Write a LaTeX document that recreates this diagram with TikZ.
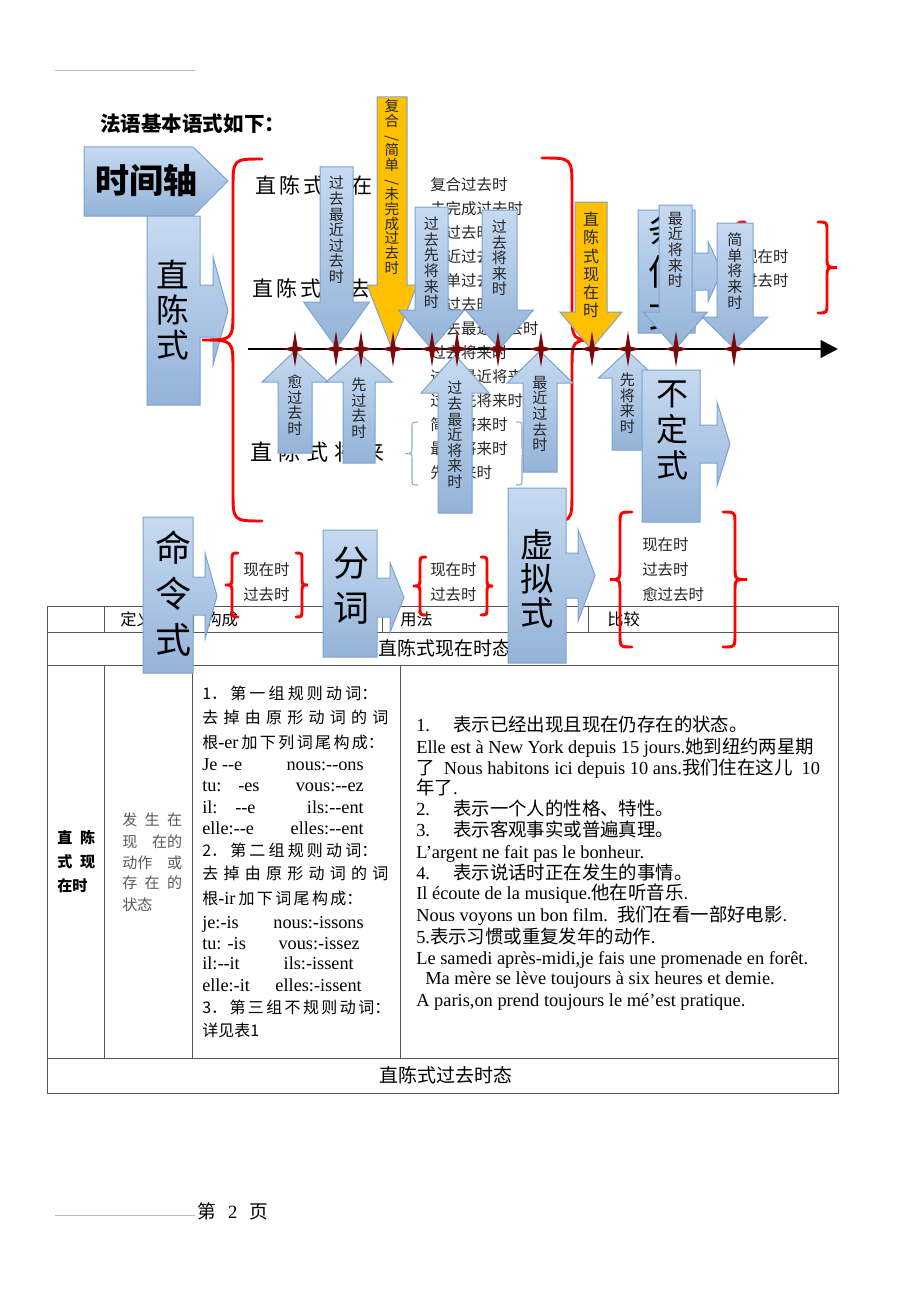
\documentclass[tikz,border=0pt]{standalone}
\usepackage{fontspec}
\setmainfont{Liberation Serif}
\newfontfamily\zh{Noto Sans CJK SC}
\usetikzlibrary{arrows.meta}

\definecolor{bluetop}{HTML}{C6DAF1}
\definecolor{bluebot}{HTML}{94B3D8}
\definecolor{boxline}{HTML}{7DA2CF}
\definecolor{gold}{HTML}{FFC000}
\definecolor{starred}{HTML}{7A0A0A}
\definecolor{listblue}{HTML}{8DAACC}
\definecolor{tabgray}{HTML}{555555}

\newdimen\pxu \pxu=0.75pt
\newcommand\spr[2]{\makebox[#1\pxu][s]{#2}}

% arrow with a stem: style, x1, x2, stem end, head base, head half width, tip
\newcommand\stemarrow[7]{\draw[#1] (#2,#4) -- (#3,#4) -- (#3,#5) -- ({(#2+#3)/2+#6},#5) -- ({(#2+#3)/2},#7) -- ({(#2+#3)/2-#6},#5) -- (#2,#5) -- cycle;}
% box with arrow to the right: x1, x2, top, bottom, neck top, neck bottom, head x, head half, tip x
\newcommand\blockarrow[9]{\draw[bluebox] (#1,#3) -- (#2,#3) -- (#2,#5) -- (#7,#5) -- (#7,{(#5+#6)/2-#8}) -- (#9,{(#5+#6)/2}) -- (#7,{(#5+#6)/2+#8}) -- (#7,#6) -- (#2,#6) -- (#2,#4) -- (#1,#4) -- cycle;}
% curly bracket: style, spine x, tip x, top, bottom, end dx, bend
\newcommand\curly[7]{\draw[#1] ({#2+(#6)},#4) .. controls (#2,#4) .. (#2,{#4+#7})
  -- (#2,{(#4+#5)/2-#7}) .. controls (#2,{(#4+#5)/2}) .. (#3,{(#4+#5)/2})
  .. controls (#2,{(#4+#5)/2}) .. (#2,{(#4+#5)/2+#7})
  -- (#2,{#5-#7}) .. controls (#2,#5) .. ({#2+(#6)},#5);}

\begin{document}
\begin{tikzpicture}[x=0.75pt,y=-0.75pt,
  bluebox/.style={draw=boxline, line width=0.75pt, top color=bluetop, bottom color=bluebot},
  yellowbox/.style={draw=boxline, line width=0.75pt, fill=gold},
  redbrace/.style={draw=red, line width=2.2pt, line cap=round},
  listbrace/.style={draw=listblue, line width=0.8pt},
  tabline/.style={draw=tabgray, line width=0.6pt},
  vlab/.style={font=\zh\fontsize{11.3}{11.7}\selectfont, align=center, inner sep=0pt, text=black!85},
  biglab/.style={align=center, inner sep=0pt},
  listtxt/.style={font=\zh\fontsize{11.6}{13}\selectfont, anchor=base west, inner sep=0pt, text=black!85},
  hdr/.style={font=\zh\fontsize{12.2}{14}\selectfont, anchor=base west, inner sep=0pt},
  cellL/.style={font=\fontsize{13.7}{15}\selectfont, anchor=base west, inner sep=0pt},
  cellR/.style={font=\fontsize{13.7}{15}\selectfont, anchor=base east, inner sep=0pt},
  cellzh/.style={font=\zh\fontsize{12}{14}\selectfont, anchor=base west, inner sep=0pt},
  usetxt/.style={font=\fontsize{13.8}{15}\selectfont, anchor=base west, inner sep=0pt}]

\path[use as bounding box, fill=white] (0,0) rectangle (920,1302);

% page rules
\draw[gray!55, line width=0.5pt] (55,70) -- (195,70);
\draw[gray!55, line width=0.5pt] (55,1215) -- (195,1215);
\node[anchor=base west, inner sep=0pt, font=\fontsize{14}{16}\selectfont] (pageNo) at (197,1218) {\spr{71}{{\zh 第} 2 {\zh 页}}};

% title
\node[anchor=base west, inner sep=0pt, font=\zh\bfseries\fontsize{15.4}{18}\selectfont] (title) at (100,132) {法语基本语式如下：};

% table
\draw[tabline] (47,606) rectangle (838,1093);
\draw[tabline] (47,632) -- (838,632);
\draw[tabline] (47,665) -- (838,665);
\draw[tabline] (47,1058) -- (838,1058);
\foreach \cx in {104,193,382,588} \draw[tabline] (\cx,606) -- (\cx,632);
\foreach \cx in {104,192,400} \draw[tabline] (\cx,665) -- (\cx,1058);

\node[hdr] (hdDef) at (120,625) {定义};
\node[hdr] (hdCon) at (205,625) {构成};
\node[hdr] (hdUse) at (400,625) {用法};
\node[hdr] (hdCmp) at (607,625) {比较};
\node[font=\zh\fontsize{14.2}{16}\selectfont, anchor=base, inner sep=0pt] (rowPres) at (445,655) {直陈式现在时态};
\node[font=\zh\fontsize{14.2}{16}\selectfont, anchor=base, inner sep=0pt] (rowPast) at (446,1082) {直陈式过去时态};

% first cells
\node[anchor=base west, inner sep=0pt, font=\zh\bfseries\fontsize{11.3}{13}\selectfont] (nameA) at (57,843.5) {\spr{38}{直 陈}};
\node[anchor=base west, inner sep=0pt, font=\zh\bfseries\fontsize{11.3}{13}\selectfont] (nameB) at (57,867.5) {\spr{38}{式 现}};
\node[anchor=base west, inner sep=0pt, font=\zh\bfseries\fontsize{11.3}{13}\selectfont] (nameC) at (57,891.5) {在时};

\node[anchor=base west, inner sep=0pt, text=black!65, font=\zh\fontsize{11.3}{13}\selectfont] (defA) at (122,825.5) {\spr{60}{发 生 在}};
\node[anchor=base west, inner sep=0pt, text=black!65, font=\zh\fontsize{11.3}{13}\selectfont] (defB) at (122,847.5) {\spr{60}{现 在的}};
\node[anchor=base west, inner sep=0pt, text=black!65, font=\zh\fontsize{11.3}{13}\selectfont] (defC) at (122,868.5) {\spr{60}{动作 或}};
\node[anchor=base west, inner sep=0pt, text=black!65, font=\zh\fontsize{11.3}{13}\selectfont] (defD) at (122,888.5) {\spr{60}{存 在 的}};
\node[anchor=base west, inner sep=0pt, text=black!65, font=\zh\fontsize{11.3}{13}\selectfont] (defE) at (122,910.5) {状态};

% forms
\node[cellzh] (conA) at (202,699) {\spr{175}{1． 第 一 组 规 则 动 词：}};
\node[cellzh] (conB) at (202,723) {\spr{186}{去 掉 由 原 形 动 词 的 词}};
\node[cellL] (conC) at (202,748) {\spr{181}{{\zh\fontsize{12}{14}\selectfont 根}-er {\zh\fontsize{12}{14}\selectfont 加 下 列 词 尾 构 成：}}};
\node[cellL] (erA) at (202,770) {Je -{}-e};
\node[cellR] (erB) at (364,770) {nous:-{}-ons};
\node[cellL] (erC) at (202,791) {tu:};
\node[cellL] (erD) at (238,791) {-es};
\node[cellR] (erE) at (364,791) {vous:-{}-ez};
\node[cellL] (erF) at (202,813) {il:};
\node[cellL] (erG) at (235,813) {-{}-e};
\node[cellR] (erH) at (364,813) {ils:-{}-ent};
\node[cellL] (erI) at (202,834) {elle:-{}-e};
\node[cellR] (erJ) at (364,834) {elles:-{}-ent};
\node[cellzh] (conD) at (202,856) {\spr{175}{2． 第 二 组 规 则 动 词：}};
\node[cellzh] (conE) at (202,879) {\spr{186}{去 掉 由 原 形 动 词 的 词}};
\node[cellL] (conF) at (202,904) {\spr{160}{{\zh\fontsize{12}{14}\selectfont 根}-ir {\zh\fontsize{12}{14}\selectfont 加 下 词 尾 构 成：}}};
\node[cellL] (irA) at (202,928) {je:-is};
\node[cellR] (irB) at (364,928) {nous:-issons};
\node[cellL] (irC) at (202,949) {tu: -is};
\node[cellR] (irD) at (360,949) {vous:-issez};
\node[cellL] (irE) at (202,969) {il:-{}-it};
\node[cellR] (irF) at (354,969) {ils:-issent};
\node[cellL] (irG) at (202,991) {elle:-it};
\node[cellR] (irH) at (362,991) {elles:-issent};
\node[cellzh] (conG) at (202,1013) {\spr{181}{3． 第 三 组 不 规 则 动 词：}};
\node[cellzh] (conH) at (202,1036) {详见表1};

% uses
\node[usetxt] (useA) at (416,731.5) {\makebox[37\pxu][l]{1.}{\zh 表示已经出现且现在仍存在的状态。}};
\node[usetxt] (useB) at (416,753.5) {Elle est à New York depuis 15 jours.{\zh 她到纽约两星期}};
\node[usetxt] (useC) at (416,774.5) {{\zh 了}\enspace Nous habitons ici depuis 10 ans.{\zh 我们住在这儿}\enspace 10};
\node[usetxt] (useD) at (416,794.5) {{\zh 年了}.};
\node[usetxt] (useE) at (416,815.5) {\makebox[37\pxu][l]{2.}{\zh 表示一个人的性格、特性。}};
\node[usetxt] (useF) at (416,836.5) {\makebox[37\pxu][l]{3.}{\zh 表示客观事实或普遍真理。}};
\node[usetxt] (useG) at (416,858.5) {L’argent ne fait pas le bonheur.};
\node[usetxt] (useH) at (416,879.5) {\makebox[37\pxu][l]{4.}{\zh 表示说话时正在发生的事情。}};
\node[usetxt] (useI) at (416,899.5) {Il écoute de la musique.{\zh 他在听音乐}.};
\node[usetxt] (useJ) at (416,921.5) {Nous voyons un bon film.\ \ {\zh 我们在看一部好电影}.};
\node[usetxt] (useK) at (416,943.5) {5.{\zh 表示习惯或重复发年的动作}.};
\node[usetxt] (useL) at (416,964.5) {Le samedi après-midi,je fais une promenade en forêt.};
\node[usetxt] (useM) at (425,984.5) {Ma mère se lève toujours à six heures et demie.};
\node[usetxt] (useN) at (416,1006.5) {A paris,on prend toujours le mé’est pratique.};

% indicative moods
\node[anchor=base west, inner sep=0pt, font=\zh\fontsize{15.75}{18}\selectfont\addfontfeature{LetterSpace=14}] (indPres) at (255,193) {直陈式现在};
\node[anchor=base west, inner sep=0pt, font=\zh\fontsize{15.75}{18}\selectfont\addfontfeature{LetterSpace=16}] (indPast) at (252,296) {直陈式过去};
\node[anchor=base west, inner sep=0pt, font=\zh\fontsize{16.5}{18}\selectfont\addfontfeature{LetterSpace=27}] (indFut) at (250,460) {直陈式将来};

\foreach \t [count=\i from 0] in {复合过去时,未完成过去时,愈过去时,最近过去时,简单过去时,先过去时,过去最近过去时,过去将来时,过去最近将来时,过去先将来时,简单将来时,最近将来时,先将来时}
  \node[listtxt] (tense\i) at (430,{190.6+24*\i}) {\t};
\curly{listbrace}{412}{405}{422}{485}{6}{6}
\curly{listbrace}{522}{528}{422}{485}{-6}{6}

% small lists
\node[listtxt] (impPres) at (243,575.6) {现在时};
\node[listtxt] (impPast) at (243,600.6) {过去时};
\node[listtxt] (partPres) at (430,575.6) {现在时};
\node[listtxt] (partPast) at (430,600.6) {过去时};
\node[listtxt] (subjPres) at (642,550.6) {现在时};
\node[listtxt] (subjPast) at (642,575.6) {过去时};
\node[listtxt] (subjPqp) at (642,600.6) {愈过去时};
\node[listtxt] (condPres) at (742,262.6) {现在时};
\node[listtxt] (condPast) at (742,286.6) {过去时};

% brackets
\curly{redbrace}{572}{598}{158}{522}{-30}{30}
\curly{redbrace}{827}{837}{222}{313}{-9}{10}
\curly{redbrace}{737}{727}{222}{313}{8}{10}
\curly{redbrace}{232}{225}{553}{617}{6}{8}
\curly{redbrace}{302}{308}{553}{617}{-6}{8}
\curly{redbrace}{420}{413}{557}{615}{6}{8}
\curly{redbrace}{487}{493}{557}{615}{-6}{8}
\curly{redbrace}{620}{610}{512}{647}{12}{13}
\curly{redbrace}{735}{747}{512}{647}{-12}{13}

% time axis box, indicative
\draw[bluebox] (84,147) -- (193,147) -- (228,181) -- (193,216) -- (84,216) -- cycle;
\node[biglab, font=\zh\bfseries\fontsize{25.5}{27}\selectfont] (axisLab) at (146,181) {时间轴};
\blockarrow{147}{200}{216}{405}{285}{337}{213}{54}{228}
\node[biglab, font=\zh\fontsize{24.5}{26.3}\selectfont] (indLab) at (173,310) {直\\陈\\式};
\curly{redbrace}{233}{202}{159}{521}{29}{30}

% conditional
\blockarrow{638}{695}{210}{333}{253}{290}{708}{30}{722}
\node[biglab, font=\zh\fontsize{27}{32}\selectfont] (condLab) at (666,272) {条\\件\\式};

% tenses pointing down
\stemarrow{bluebox}{320}{353}{167}{302}{33}{348}
\node[vlab] (lbA) at (336.5,230) {过\\去\\最\\近\\过\\去\\时};
\stemarrow{yellowbox}{377}{407}{97}{285}{25}{349}
\node[vlab, font=\zh\fontsize{10.9}{11}\selectfont] (lbB) at (392,187) {复\\合\\\rotatebox{90}{/}\\简\\单\\\rotatebox{90}{/}\\未\\完\\成\\过\\去\\时};
\stemarrow{bluebox}{415}{448}{207}{310}{33}{349}
\node[vlab] (lbC) at (431.5,263) {过\\去\\先\\将\\来\\时};
\stemarrow{bluebox}{482}{517}{210}{310}{34}{349}
\node[vlab] (lbD) at (499.5,258) {过\\去\\将\\来\\时};
\stemarrow{yellowbox}{575}{607}{202}{312}{31}{349}
\node[vlab, font=\zh\fontsize{12}{13.7}\selectfont] (lbE) at (591,265) {直\\陈\\式\\现\\在\\时};
\stemarrow{bluebox}{659}{692}{205}{312}{32}{349}
\node[vlab] (lbG) at (675.5,250) {最\\近\\将\\来\\时};
\stemarrow{bluebox}{717}{753}{223}{317}{33}{349}
\node[vlab] (lbH) at (735,271) {简\\单\\将\\来\\时};

% tenses pointing up
\stemarrow{bluebox}{278}{312}{453}{382}{33}{351}
\node[vlab] (lbI) at (295,405) {愈\\过\\去\\时};
\stemarrow{bluebox}{343}{375}{463}{382}{33}{353}
\node[vlab] (lbJ) at (359,408) {先\\过\\去\\时};
\stemarrow{bluebox}{438}{472}{513}{393}{34}{355}
\node[vlab] (lbK) at (455,435) {过\\去\\最\\近\\将\\来\\时};
\stemarrow{bluebox}{523}{557}{472}{383}{33}{351}
\node[vlab] (lbL) at (540,414) {最\\近\\过\\去\\时};
\stemarrow{bluebox}{612}{643}{450}{378}{29}{351}
\node[vlab] (lbM) at (627.5,403) {先\\将\\来\\时};

% other moods
\blockarrow{642}{700}{370}{522}{425}{463}{717}{42}{730}
\node[biglab, font=\zh\fontsize{24}{27}\selectfont] (infLab) at (672,430) {不\\定\\式};
\blockarrow{143}{193}{517}{673}{577}{615}{205}{43}{217}
\node[biglab, font=\zh\fontsize{27}{34.5}\selectfont] (impLab) at (173,594) {命\\令\\式};
\blockarrow{323}{377}{530}{657}{578}{617}{390}{35}{404}
\node[biglab, font=\zh\fontsize{27}{33.7}\selectfont] (partLab) at (351,586) {分\\词};
\blockarrow{508}{566}{488}{663}{553}{598}{578}{46}{595}
\node[biglab, font=\zh\fontsize{25}{25.5}\selectfont] (subjLab) at (537,579) {虚\\拟\\式};

% axis
\coordinate (axisL) at (248,349);
\coordinate (axisR) at (838,349);
\draw[line width=2.2pt, -{Triangle[length=13pt,width=13pt]}] (axisL) -- (axisR);
\foreach \sx in {295,336,361,393,432,457,498,541,592,628,676,734}
  \fill[starred] (\sx,331) -- (\sx+2.5,346.5) -- (\sx+12,349) -- (\sx+2.5,351.5) -- (\sx,367) -- (\sx-2.5,351.5) -- (\sx-12,349) -- (\sx-2.5,346.5) -- cycle;

\end{tikzpicture}
\end{document}
